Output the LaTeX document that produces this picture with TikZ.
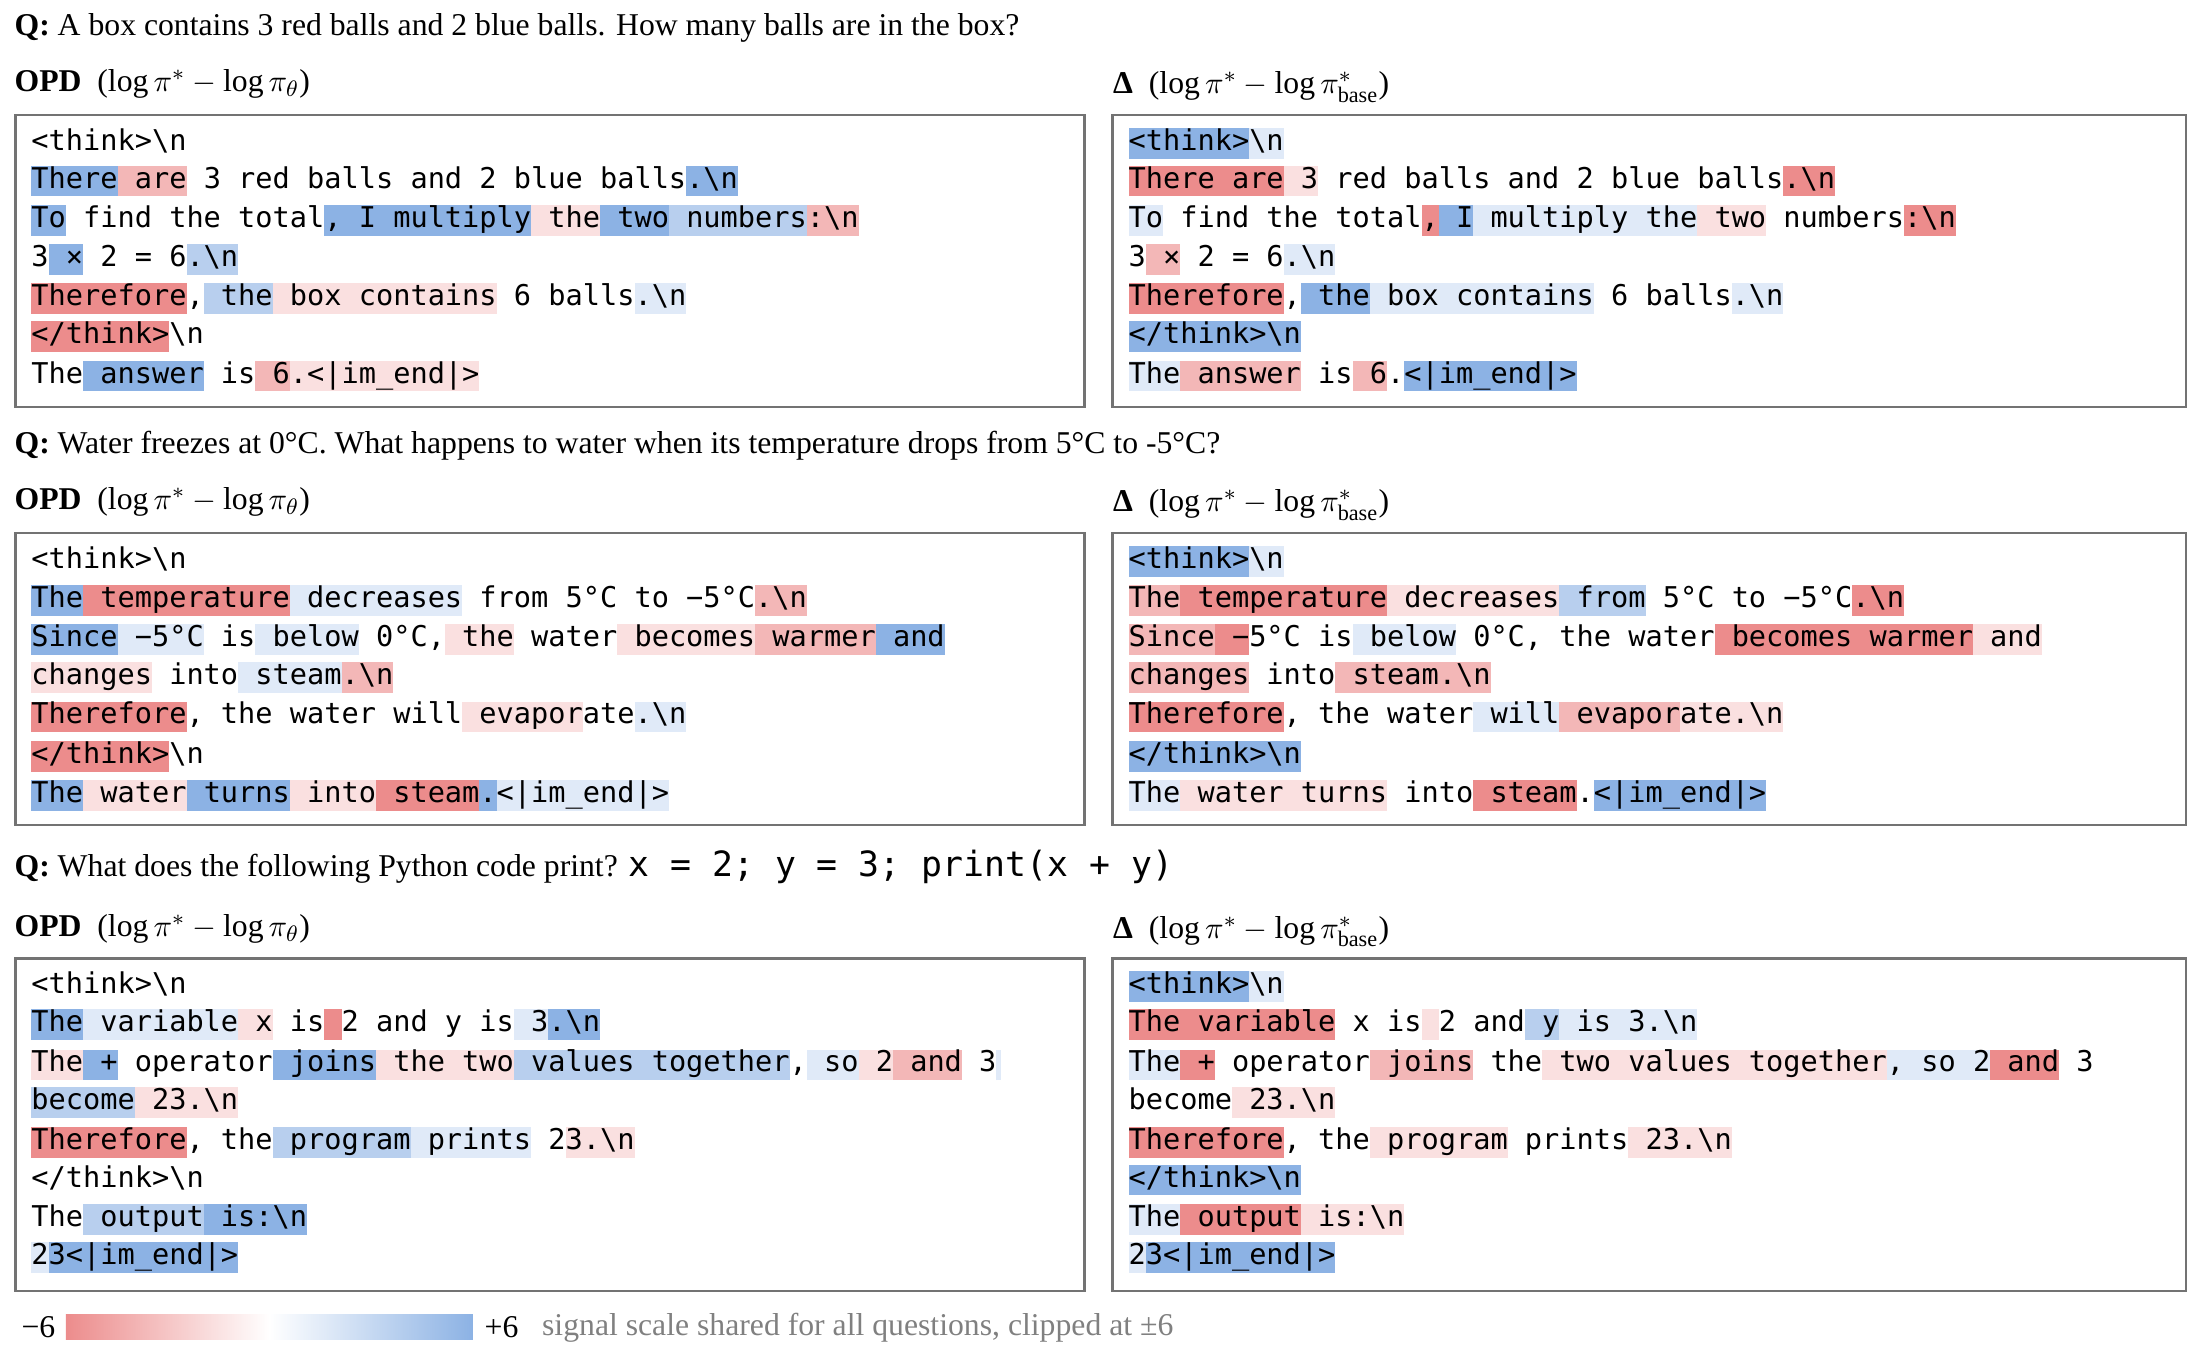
\documentclass[tikz,border=0pt]{standalone}
\usepackage{fontspec}
\setmainfont{Liberation Serif}
\setmonofont{DejaVu Sans Mono}
\definecolor{r3}{RGB}{236,140,140}
\definecolor{r2}{RGB}{243,183,183}
\definecolor{r1}{RGB}{250,224,224}
\definecolor{b3}{RGB}{140,178,228}
\definecolor{b2}{RGB}{184,207,238}
\definecolor{b1}{RGB}{224,234,248}
\definecolor{n}{RGB}{255,255,255}
\newcommand\tkstrut{\rule[-3pt]{0pt}{11pt}}
\newcommand\tk[2]{{\setlength\fboxsep{0pt}\colorbox{#1}{\tkstrut #2}}}
\newcommand\NL{\textbackslash n}
\newcommand\IME{<|im\_end|>}
\tikzset{tl/.style={anchor=west,inner sep=0pt,font=\fontsize{10.2}{12}\ttfamily},
 hd/.style={anchor=west,inner sep=0pt,font=\fontsize{11.3}{13}\selectfont},
 panel/.style={draw=black!55,line width=0.9pt}}
\begin{document}
\begin{tikzpicture}[x=0.5pt,y=-0.5pt]
\useasboundingbox (0,0) rectangle (1568,968);
% ---------- Row 1
\node[hd] (q1) at (10,20) {\textbf{Q:} A box contains 3 red balls and 2 blue balls. How many balls are in the box?};
\node[hd] (h1l) at (10,60) {\textbf{OPD}\ \ ($\log\pi^{*}-\log\pi_{\theta}$)};
\node[hd] (h1r) at (793,62) {\textbf{Δ}\ \ ($\log\pi^{*}-\log\pi^{*}_{\mathrm{base}}$)};
\draw[panel] (11,82) rectangle (773,290);
\draw[panel] (793,82) rectangle (1558,290);
\node[tl] (a1) at (22,102) {\tk{n}{<think>\NL}};
\node[tl] (a2) at (22,129) {\tk{b3}{There}\tk{r2}{ are}\tk{n}{ 3 red balls and 2 blue balls}\tk{b3}{.\NL}};
\node[tl] (a3) at (22,157) {\tk{b3}{To}\tk{n}{ find the total}\tk{b3}{,}\tk{b3}{ I multiply}\tk{r1}{ the}\tk{b3}{ two}\tk{b2}{ numbers}\tk{r2}{:\NL}};
\node[tl] (a4) at (22,185) {\tk{n}{3}\tk{b3}{ ×}\tk{n}{ 2 = 6}\tk{b2}{.\NL}};
\node[tl] (a5) at (22,213) {\tk{r3}{Therefore}\tk{n}{,}\tk{b2}{ the}\tk{r1}{ box}\tk{r1}{ contains}\tk{n}{ 6 balls}\tk{b1}{.\NL}};
\node[tl] (a6) at (22,240) {\tk{r3}{</think>}\tk{n}{\NL}};
\node[tl] (a7) at (22,268) {\tk{n}{The}\tk{b3}{ answer}\tk{n}{ is}\tk{r2}{ 6}\tk{r1}{.\IME}};
\node[tl] (b1) at (804,102) {\tk{b3}{<think>}\tk{b1}{\NL}};
\node[tl] (b2) at (804,129) {\tk{r3}{There are}\tk{r1}{ 3}\tk{n}{ red balls and 2 blue balls}\tk{r3}{.\NL}};
\node[tl] (b3) at (804,157) {\tk{b1}{To}\tk{n}{ find the total}\tk{r3}{,}\tk{b3}{ I}\tk{b1}{ multiply the}\tk{r1}{ two}\tk{n}{ numbers}\tk{r3}{:\NL}};
\node[tl] (b4) at (804,185) {\tk{n}{3}\tk{r2}{ ×}\tk{n}{ 2 = 6}\tk{b1}{.\NL}};
\node[tl] (b5) at (804,213) {\tk{r3}{Therefore}\tk{n}{,}\tk{b3}{ the}\tk{b1}{ box contains}\tk{n}{ 6 balls}\tk{b1}{.\NL}};
\node[tl] (b6) at (804,240) {\tk{b3}{</think>\NL}};
\node[tl] (b7) at (804,268) {\tk{b1}{The}\tk{r2}{ answer}\tk{n}{ is}\tk{r2}{ 6}\tk{n}{.}\tk{b3}{\IME}};
% ---------- Row 2
\node[hd] (q2) at (10,318) {\textbf{Q:} Water freezes at 0°C. What happens to water when its temperature drops from 5°C to -5°C?};
\node[hd] (h2l) at (10,358) {\textbf{OPD}\ \ ($\log\pi^{*}-\log\pi_{\theta}$)};
\node[hd] (h2r) at (793,360) {\textbf{Δ}\ \ ($\log\pi^{*}-\log\pi^{*}_{\mathrm{base}}$)};
\draw[panel] (11,380) rectangle (773,588);
\draw[panel] (793,380) rectangle (1558,588);
\node[tl] (c1) at (22,400) {\tk{n}{<think>\NL}};
\node[tl] (c2) at (22,428) {\tk{b3}{The}\tk{r3}{ temperature}\tk{b1}{ decreases}\tk{n}{ from 5°C to −5°C}\tk{r2}{.\NL}};
\node[tl] (c3) at (22,456) {\tk{b3}{Since}\tk{b1}{ −5°C}\tk{n}{ is}\tk{b1}{ below}\tk{n}{ 0°C,}\tk{r1}{ the}\tk{n}{ water}\tk{r1}{ becomes}\tk{r2}{ warmer}\tk{b3}{ and}};
\node[tl] (c4) at (22,483) {\tk{r1}{changes}\tk{n}{ into}\tk{b1}{ steam}\tk{r2}{.\NL}};
\node[tl] (c5) at (22,511) {\tk{r3}{Therefore}\tk{n}{,}\tk{n}{ the water will}\tk{r1}{ evapor}\tk{n}{ate}\tk{b1}{.\NL}};
\node[tl] (c6) at (22,539) {\tk{r3}{</think>}\tk{n}{\NL}};
\node[tl] (c7) at (22,567) {\tk{b3}{The}\tk{r1}{ water}\tk{b3}{ turns}\tk{r1}{ into}\tk{r3}{ steam}\tk{b3}{.}\tk{b1}{\IME}};
\node[tl] (d1) at (804,400) {\tk{b3}{<think>}\tk{b1}{\NL}};
\node[tl] (d2) at (804,428) {\tk{r2}{The}\tk{r3}{ temperature}\tk{r1}{ decreases}\tk{b2}{ from}\tk{n}{ 5°C to −5°C}\tk{r3}{.\NL}};
\node[tl] (d3) at (804,456) {\tk{r2}{Since}\tk{r3}{ −}\tk{n}{5°C is}\tk{b1}{ below}\tk{n}{ 0°C,}\tk{n}{ the water}\tk{r3}{ becomes warmer}\tk{r1}{ and}};
\node[tl] (d4) at (804,483) {\tk{r2}{changes}\tk{n}{ into}\tk{r2}{ steam.\NL}};
\node[tl] (d5) at (804,511) {\tk{r3}{Therefore}\tk{n}{, the water}\tk{b1}{ will}\tk{r2}{ evapor}\tk{r1}{ate.\NL}};
\node[tl] (d6) at (804,539) {\tk{b3}{</think>\NL}};
\node[tl] (d7) at (804,567) {\tk{b1}{The}\tk{r1}{ water turns}\tk{n}{ into}\tk{r3}{ steam}\tk{n}{.}\tk{b3}{\IME}};
% ---------- Row 3
\node[hd] (q3) at (10,618) {\textbf{Q:} What does the following Python code print? {\fontsize{12.4}{14}\ttfamily x = 2; y = 3; print(x + y)}};
\node[hd] (h3l) at (10,662) {\textbf{OPD}\ \ ($\log\pi^{*}-\log\pi_{\theta}$)};
\node[hd] (h3r) at (793,664) {\textbf{Δ}\ \ ($\log\pi^{*}-\log\pi^{*}_{\mathrm{base}}$)};
\draw[panel] (11,683) rectangle (773,920);
\draw[panel] (793,683) rectangle (1558,920);
\node[tl] (e1) at (22,703) {\tk{n}{<think>\NL}};
\node[tl] (e2) at (22,730) {\tk{b3}{The}\tk{b1}{ variable}\tk{r1}{ x}\tk{n}{ is}\tk{r3}{ }\tk{n}{2 and y is}\tk{b1}{ 3}\tk{b3}{.\NL}};
\node[tl] (e3) at (22,759) {\tk{r1}{The}\tk{b3}{ +}\tk{n}{ operator}\tk{b3}{ joins}\tk{r1}{ the}\tk{r1}{ two}\tk{b2}{ values}\tk{b2}{ together}\tk{n}{,}\tk{b1}{ so}\tk{r1}{ 2}\tk{r2}{ and}\tk{n}{ 3}\tk{b1}{\,}};
\node[tl] (e4) at (22,786) {\tk{b2}{become}\tk{r1}{ 2}\tk{r1}{3.\NL}};
\node[tl] (e5) at (22,814) {\tk{r3}{Therefore}\tk{n}{,}\tk{n}{ the}\tk{b2}{ program}\tk{b1}{ prints}\tk{n}{ 2}\tk{r1}{3.\NL}};
\node[tl] (e6) at (22,841) {\tk{n}{</think>\NL}};
\node[tl] (e7) at (22,869) {\tk{n}{The}\tk{b2}{ output}\tk{b3}{ is:\NL}};
\node[tl] (e8) at (22,896) {\tk{b1}{2}\tk{b3}{3\IME}};
\node[tl] (f1) at (804,703) {\tk{b3}{<think>}\tk{b1}{\NL}};
\node[tl] (f2) at (804,730) {\tk{r3}{The variable}\tk{n}{ x is}\tk{r1}{ }\tk{n}{2 and}\tk{b2}{ y}\tk{b1}{ is 3.\NL}};
\node[tl] (f3) at (804,759) {\tk{b1}{The}\tk{r3}{ +}\tk{n}{ operator}\tk{r2}{ joins}\tk{n}{ the}\tk{r1}{ two values together}\tk{b1}{, so}\tk{b1}{ 2}\tk{r3}{ and}\tk{n}{ 3}};
\node[tl] (f4) at (804,786) {\tk{n}{become}\tk{r1}{ 23.\NL}};
\node[tl] (f5) at (804,814) {\tk{r3}{Therefore}\tk{n}{,}\tk{n}{ the}\tk{r1}{ program}\tk{n}{ prints}\tk{r1}{ 23.\NL}};
\node[tl] (f6) at (804,841) {\tk{b3}{</think>\NL}};
\node[tl] (f7) at (804,869) {\tk{b1}{The}\tk{r3}{ output}\tk{r1}{ is:\NL}};
\node[tl] (f8) at (804,896) {\tk{b1}{2}\tk{b3}{3\IME}};
% ---------- Legend
\node[hd,font=\fontsize{11.3}{13}\selectfont] (m6) at (15,946) {−6};
\shade[left color=r3,right color=b3,middle color=white] (47,937) rectangle (337,955);
\node[hd] (p6) at (345,946) {+6};
\node[hd,text=black!50] (cap) at (386,946) {signal scale shared for all questions, clipped at ±6};
\end{tikzpicture}
\end{document}
